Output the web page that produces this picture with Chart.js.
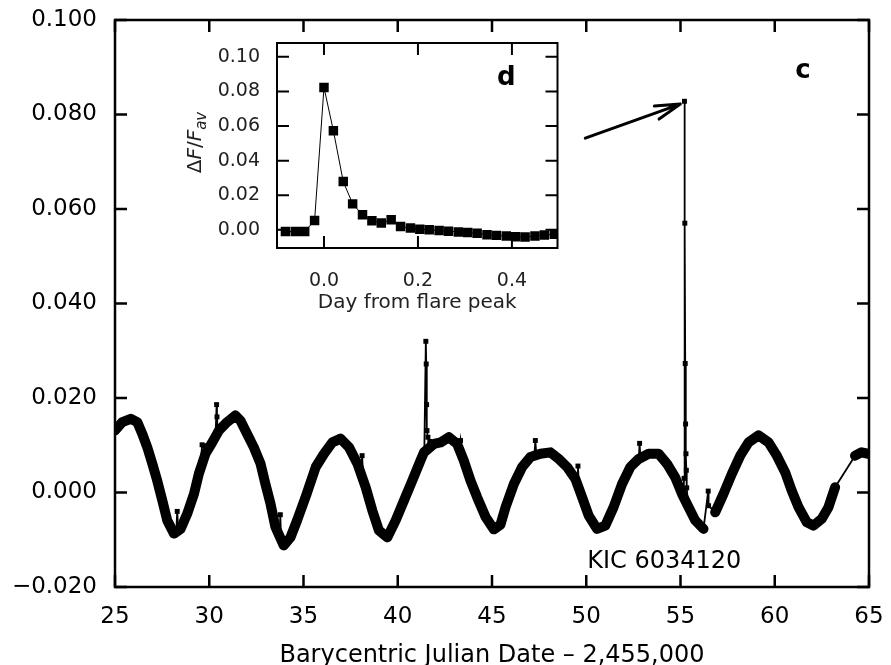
<!DOCTYPE html>
<html>
<head>
<meta charset="utf-8">
<script src="https://cdn.jsdelivr.net/npm/chart.js@4.4.1/dist/chart.umd.min.js"></script>
<style>
  html, body { margin: 0; padding: 0; background: #fff; }
  #wrap { position: relative; width: 891px; height: 665px; }
  canvas { position: absolute; }
  #main { left: 0; top: 0; }
  #inset { left: 170px; top: 35px; }
</style>
</head>
<body>
<div id="wrap">
  <canvas id="main" width="891" height="665"></canvas>
  <canvas id="inset" width="410" height="290"></canvas>
</div>
<script>
// ---------- main light curve (BJD - 2,455,000 vs dF/F) ----------
const mainXTicks = [25, 30, 35, 40, 45, 50, 55, 60, 65];
const mainYTicks = [-0.02, 0, 0.02, 0.04, 0.06, 0.08, 0.1];

// spot-modulated baseline (null = data gap)
const bandDays = [25.0, 25.39, 25.83, 26.18, 26.45, 26.71, 26.98, 27.24, 27.51, 27.77,
  28.13, 28.48, 28.83, 29.19, 29.45, 29.80, 30.16, 30.51, 30.95, 31.39,
  31.66, 32.01, 32.36, 32.72, 32.98, 33.25, 33.51, 33.95, 34.31, 34.66,
  35.15, 35.65, 36.09, 36.53, 36.97, 37.41, 37.86, 38.30, 38.65, 39.00,
  39.45, 39.89, 40.33, 40.77, 41.21, 41.39, 41.92, 42.27, 42.71, 43.15,
  43.50, 43.86, 44.21, 44.66, 45.10, 45.45, 45.72, 46.16, 46.60, 47.04,
  47.57, 48.10, 48.54, 48.98, 49.42, 49.78, 50.13, 50.57, 51.01, 51.45,
  51.90, 52.34, 52.78, 53.31, 53.84, 54.28, 54.72, 55.08, 55.43, 55.78,
  56.22, 56.50, 56.84, 57.28, 57.73, 58.17, 58.61, 59.14, 59.67, 60.11,
  60.55, 60.90, 61.26, 61.70, 62.05, 62.49, 62.85, 63.20, 63.70, 64.26,
  64.61, 64.96];
const bandFlux = [0.0131, 0.0149, 0.0156, 0.0149, 0.0124, 0.0096, 0.0061, 0.0025, -0.0017, -0.0059,
  -0.0087, -0.0077, -0.0045, -0.0003, 0.0040, 0.0082, 0.0106, 0.0131, 0.0149, 0.0163,
  0.0152, 0.0124, 0.0096, 0.0061, 0.0018, -0.0024, -0.0073, -0.0112, -0.0095, -0.0059,
  -0.0005, 0.0054, 0.0082, 0.0106, 0.0114, 0.0096, 0.0061, 0.0011, -0.0038, -0.0080,
  -0.0095, -0.0059, -0.0017, 0.0025, 0.0068, 0.0085, 0.0103, 0.0106, 0.0117, 0.0103,
  0.0068, 0.0025, -0.0010, -0.0052, -0.0078, -0.0068, -0.0031, 0.0018, 0.0054, 0.0075,
  0.0082, 0.0085, 0.0071, 0.0054, 0.0029, -0.0010, -0.0049, -0.0077, -0.0070, -0.0031,
  0.0018, 0.0054, 0.0071, 0.0082, 0.0082, 0.0061, 0.0032, -0.0003, -0.0031, -0.0059,
  -0.0077, null, -0.0042, -0.0003, 0.0040, 0.0078, 0.0106, 0.0121, 0.0106, 0.0078,
  0.0043, 0.0004, -0.0031, -0.0063, -0.0070, -0.0056, -0.0031, 0.0011, null, 0.0078,
  0.0085, 0.0082];

// flares, outliers and gap connectors (null = break)
const spikeDays = [28.25, 28.30, 28.36, 28.40,
  29.55, 29.62, 29.72, 29.80, 29.85,
  30.34, 30.39, 30.41, 30.45, 30.50,
  33.73, 33.77, 33.81, 33.85,
  38.06, 38.11, 38.16, 38.20,
  41.41, 41.49, 41.51, 41.53, 41.55, 41.60, 41.70, 41.75,
  43.28, 43.33, 43.38, 43.42,
  47.25, 47.30, 47.35, 47.40,
  49.52, 49.56, 49.61, 49.65,
  52.79, 52.83, 52.87, 52.90,
  55.15, 55.19, 55.21, 55.23, 55.25, 55.27, 55.29, 55.31, 55.33, 55.40, 55.45,
  56.22, 56.47, 56.49, 56.84, 56.90,
  63.20, 64.26];
const spikeFlux = [-0.0086, -0.0040, -0.0083, null,
  0.0060, 0.0101, 0.0099, 0.0082, null,
  0.0126, 0.0186, 0.0160, 0.0130, null,
  -0.0098, -0.0047, -0.0104, null,
  0.0046, 0.0078, 0.0036, null,
  0.0088, 0.0320, 0.0272, 0.0186, 0.0131, 0.0117, 0.0108, null,
  0.0094, 0.0110, 0.0090, null,
  0.0079, 0.0110, 0.0081, null,
  0.0020, 0.0056, 0.0012, null,
  0.0073, 0.0104, 0.0075, null,
  -0.0010, 0.0030, 0.0828, 0.0570, 0.0273, 0.0145, 0.0082, 0.0047, 0.0010, -0.0025, null,
  -0.0077, 0.0003, -0.0028, -0.0042, null,
  0.0011, 0.0078];

// ---------- inset: flare profile ----------
const insetXTicks = [0, 0.2, 0.4];
const insetYTicks = [0, 0.02, 0.04, 0.06, 0.08, 0.1];
const insetDays = [-0.082, -0.061, -0.041, -0.020, 0.000, 0.020, 0.041, 0.061, 0.082, 0.102,
  0.122, 0.143, 0.163, 0.184, 0.204, 0.224, 0.245, 0.265, 0.286, 0.306,
  0.326, 0.347, 0.367, 0.388, 0.408, 0.428, 0.449, 0.469, 0.490];
const insetFlux = [-0.0010, -0.0010, -0.0010, 0.0054, 0.0823, 0.0573, 0.0279, 0.0150, 0.0087, 0.0052,
  0.0039, 0.0058, 0.0019, 0.0010, 0.0004, 0.0000, -0.0004, -0.0008, -0.0012, -0.0016,
  -0.0020, -0.0028, -0.0032, -0.0036, -0.0040, -0.0042, -0.0036, -0.0030, -0.0025];

// annotation anchors, in data units
const mainNotes = {
  arrowFrom: [49.95, 0.0750],
  arrowTo: [54.99, 0.0822],
  panel: [61.49, 0.0877],
  star: [54.14, -0.0159]
};
const insetNotes = { panel: [0.388, 0.0837] };

Chart.defaults.font.family = "'DejaVu Sans', sans-serif";
Chart.defaults.color = '#000';

const toXY = (xs, ys) => xs.map((x, i) => ({ x, y: ys[i] }));

// box frame with inward ticks on all four sides
const framePlugin = {
  id: 'frame',
  afterDatasetsDraw(chart, args, opts) {
    const { ctx, chartArea: a, scales: { x, y } } = chart;
    ctx.save();
    ctx.strokeStyle = '#000';
    ctx.lineWidth = opts.width;
    ctx.beginPath();
    x.ticks.forEach(t => {
      const px = x.getPixelForValue(t.value);
      ctx.moveTo(px, a.bottom); ctx.lineTo(px, a.bottom - opts.tick);
      ctx.moveTo(px, a.top); ctx.lineTo(px, a.top + opts.tick);
    });
    y.ticks.forEach(t => {
      const py = y.getPixelForValue(t.value);
      ctx.moveTo(a.left, py); ctx.lineTo(a.left + opts.tick, py);
      ctx.moveTo(a.right, py); ctx.lineTo(a.right - opts.tick, py);
    });
    ctx.stroke();
    ctx.strokeRect(a.left, a.top, a.right - a.left, a.bottom - a.top);
    ctx.restore();
  }
};

const mainNotesPlugin = {
  id: 'mainNotes',
  afterDraw(chart) {
    const { ctx, scales: { x, y } } = chart;
    const px = p => [x.getPixelForValue(p[0]), y.getPixelForValue(p[1])];
    ctx.save();
    // arrow to the flare peak
    const [x0, y0] = px(mainNotes.arrowFrom);
    const [x1, y1] = px(mainNotes.arrowTo);
    const ang = Math.atan2(y1 - y0, x1 - x0);
    ctx.strokeStyle = '#000';
    ctx.lineWidth = 3;
    ctx.lineCap = 'round';
    ctx.beginPath();
    ctx.moveTo(x0, y0); ctx.lineTo(x1, y1);
    [-0.27, 0.27].forEach(d => {
      ctx.moveTo(x1, y1);
      ctx.lineTo(x1 - 26 * Math.cos(ang + d), y1 - 26 * Math.sin(ang + d));
    });
    ctx.stroke();

    ctx.fillStyle = '#000';
    ctx.textAlign = 'center';
    ctx.textBaseline = 'alphabetic';
    ctx.font = "bold 26px 'DejaVu Sans'";
    const [cx, cy] = px(mainNotes.panel);
    ctx.fillText('c', cx, cy);
    ctx.font = "24px 'DejaVu Sans'";
    const [kx, ky] = px(mainNotes.star);
    ctx.fillText('KIC 6034120', kx, ky);
    ctx.restore();
  }
};

const insetNotesPlugin = {
  id: 'insetNotes',
  afterDraw(chart) {
    const { ctx, chartArea: a, scales: { x, y } } = chart;
    ctx.save();
    ctx.fillStyle = '#000';
    ctx.textAlign = 'center';
    ctx.textBaseline = 'alphabetic';
    ctx.font = "bold 26px 'DejaVu Sans'";
    ctx.fillText('d', x.getPixelForValue(insetNotes.panel[0]), y.getPixelForValue(insetNotes.panel[1]));

    // rotated axis label: ΔF/F with subscript "av"
    const parts = [
      { t: '\u0394', f: "20px 'DejaVu Sans'", dy: 0 },
      { t: 'F', f: "italic 20px 'DejaVu Sans'", dy: 0 },
      { t: '/', f: "20px 'DejaVu Sans'", dy: 0 },
      { t: 'F', f: "italic 20px 'DejaVu Sans'", dy: 0 },
      { t: 'av', f: "italic 15px 'DejaVu Sans'", dy: 5 }
    ];
    let total = 0;
    parts.forEach(p => { ctx.font = p.f; p.w = ctx.measureText(p.t).width; total += p.w; });
    ctx.fillStyle = '#222';
    ctx.translate(a.left - 76, (a.top + a.bottom) / 2 - 3);
    ctx.rotate(-Math.PI / 2);
    ctx.textAlign = 'left';
    let cur = -total / 2;
    parts.forEach(p => { ctx.font = p.f; ctx.fillText(p.t, cur, p.dy); cur += p.w; });
    ctx.restore();
  }
};

const axisCommon = {
  grid: { display: false, drawTicks: false },
  border: { display: false }
};
// fixed axis boxes, no extra room for edge labels
const fixX = h => s => { s.height = h; s.paddingLeft = 0; s.paddingRight = 0; };
const fixY = w => s => { s.width = w; s.paddingTop = 0; s.paddingBottom = 0; };

new Chart(document.getElementById('main'), {
  type: 'line',
  data: {
    datasets: [
      {
        data: toXY(bandDays, bandFlux),
        borderColor: '#000',
        borderWidth: 10,
        borderJoinStyle: 'round',
        borderCapStyle: 'round',
        pointRadius: 0,
        spanGaps: false
      },
      {
        data: toXY(spikeDays, spikeFlux),
        borderColor: '#000',
        borderWidth: 1.8,
        pointStyle: 'rect',
        pointRadius: 3.5,
        pointBorderWidth: 0,
        pointBackgroundColor: '#000',
        spanGaps: false
      }
    ]
  },
  options: {
    responsive: false,
    animation: false,
    layout: { padding: { left: 0, right: 22, top: 20, bottom: 0 } },
    plugins: {
      legend: { display: false },
      tooltip: { enabled: false },
      frame: { width: 2.5, tick: 12 }
    },
    scales: {
      x: {
        ...axisCommon,
        type: 'linear',
        min: 25,
        max: 65,
        afterBuildTicks: s => { s.ticks = mainXTicks.map(v => ({ value: v })); },
        afterFit: fixX(78),
        ticks: { font: { size: 23 }, padding: 16, callback: v => String(v) },
        title: {
          display: true,
          text: 'Barycentric Julian Date \u2013 2,455,000',
          font: { size: 24, lineHeight: 0.8 },
          padding: { top: 0, bottom: 0 }
        }
      },
      y: {
        ...axisCommon,
        min: -0.02,
        max: 0.1,
        afterBuildTicks: s => { s.ticks = mainYTicks.map(v => ({ value: v })); },
        afterFit: fixY(115),
        ticks: {
          font: { size: 23 },
          padding: 18,
          callback: v => (v < 0 ? '\u2212' : '') + Math.abs(v).toFixed(3)
        }
      }
    }
  },
  plugins: [framePlugin, mainNotesPlugin]
});

new Chart(document.getElementById('inset'), {
  type: 'line',
  data: {
    datasets: [{
      data: toXY(insetDays, insetFlux),
      borderColor: '#000',
      borderWidth: 1,
      pointStyle: 'rect',
      pointRadius: 6.7,
      pointBorderWidth: 0,
      pointBackgroundColor: '#000'
    }]
  },
  options: {
    responsive: false,
    animation: false,
    layout: { padding: { left: 0, right: 22.5, top: 8, bottom: 0 } },
    plugins: {
      legend: { display: false },
      tooltip: { enabled: false },
      frame: { width: 2, tick: 12 }
    },
    scales: {
      x: {
        ...axisCommon,
        type: 'linear',
        min: -0.1,
        max: 0.497,
        afterBuildTicks: s => { s.ticks = insetXTicks.map(v => ({ value: v })); },
        afterFit: fixX(77),
        ticks: { font: { size: 19 }, color: '#222', padding: 22, callback: v => v.toFixed(1) },
        title: {
          display: true,
          text: 'Day from flare peak',
          color: '#222',
          font: { size: 20, lineHeight: 1 },
          padding: { top: 0, bottom: 12 }
        }
      },
      y: {
        ...axisCommon,
        min: -0.0105,
        max: 0.108,
        afterBuildTicks: s => { s.ticks = insetYTicks.map(v => ({ value: v })); },
        afterFit: fixY(107),
        ticks: { font: { size: 19 }, color: '#222', padding: 17, callback: v => v.toFixed(2) }
      }
    }
  },
  plugins: [framePlugin, insetNotesPlugin]
});
</script>
</body>
</html>
